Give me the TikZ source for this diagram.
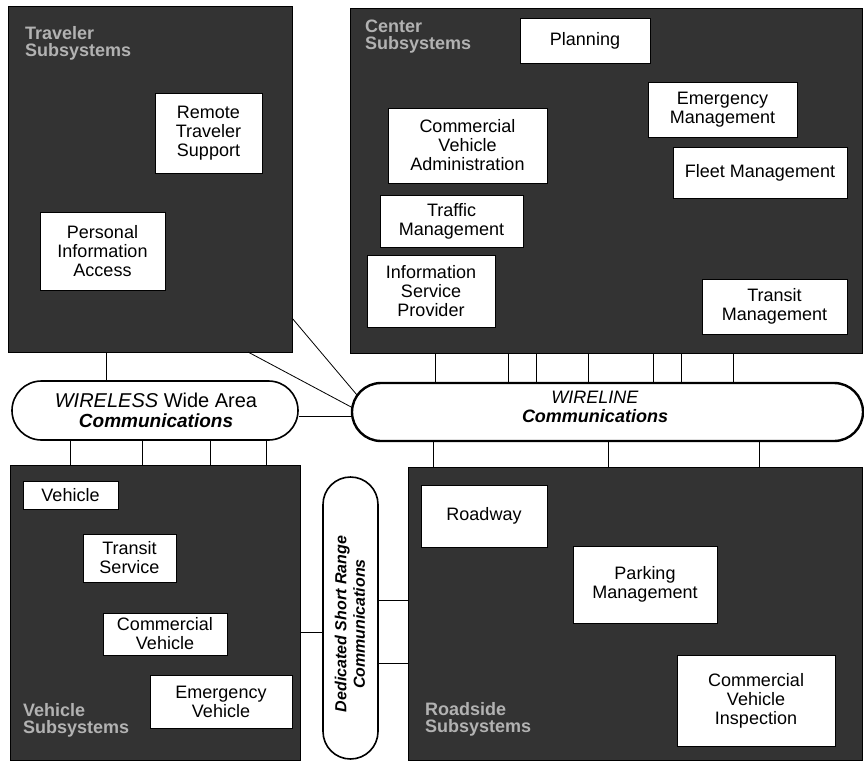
\documentclass[tikz,border=0pt]{standalone}
\usepackage{fontspec}
\setmainfont{Liberation Sans}
\begin{document}
\begin{tikzpicture}[x=1pt,y=-1pt,
  panel/.style={fill=black!80, draw=black, line width=0.8pt, inner sep=0pt},
  wbox/.style={draw=black, fill=white, line width=0.6pt, align=center, inner sep=0pt, font=\fontsize{18}{19}\selectfont},
  ptitle/.style={anchor=north west, align=left, text=black!30, inner sep=0pt, font=\bfseries\fontsize{18}{17}\selectfont},
  comm/.style={draw=black, fill=white, inner sep=0pt},
  conn/.style={draw=black, line width=0.8pt}]
\useasboundingbox (0,0) rectangle (864,760);
\fill[white] (0,0) rectangle (864,760);

% panels
\node[panel, minimum width=284pt, minimum height=346pt] (trav) at (150,179) {};
\node[panel, minimum width=512pt, minimum height=345pt] (cen) at (606,180.5) {};
\node[panel, minimum width=290pt, minimum height=295pt] (veh) at (155,612.5) {};
\node[panel, minimum width=454pt, minimum height=293pt] (road) at (635,613.5) {};

% panel titles
\node[ptitle] (travt) at (25,26) {Traveler\\Subsystems};
\node[ptitle] (cent) at (365,20) {Center\\Subsystems};
\node[ptitle] (veht) at (23,703) {Vehicle\\Subsystems};
\node[ptitle] (roadt) at (425,702) {Roadside\\Subsystems};

% communication elements
\node[comm, line width=1.6pt, rounded corners=29.5pt, minimum width=286pt, minimum height=59pt] (wls) at (155,410.5) {};
\node[align=center, inner sep=0pt, font=\fontsize{20}{20.5}\selectfont] (wlst) at (156,410.5)
  {\textit{WIRELESS} Wide Area\\{\fontsize{19}{20.5}\selectfont\bfseries\itshape Communications}};
\node[comm, line width=2.4pt, rounded corners=29pt, minimum width=511pt, minimum height=58pt] (wl) at (607.5,412) {};
\node[align=center, inner sep=0pt, font=\fontsize{18}{19.5}\selectfont] (wlt) at (595,407)
  {\textit{WIRELINE}\\\textbf{\textit{Communications}}};
\node[comm, line width=1.6pt, rounded corners=27.5pt, minimum width=55pt, minimum height=282pt] (dsrc) at (350.5,618) {};
\node[rotate=90, align=center, inner sep=0pt, font=\bfseries\itshape\fontsize{16}{18.5}\selectfont] (dsrct) at (350,624)
  {Dedicated Short Range\\Communications};

% connectors
\draw[conn] (106,0 |- trav.south) -- (106,0 |- wls.north);
\foreach \x in {70,142,210,266} \draw[conn] (\x,0 |- wls.south) -- (\x,0 |- veh.north);
\foreach \x in {435,508,536,588,653,681,733} \draw[conn] (\x,0 |- cen.south) -- (\x,0 |- wl.north);
\foreach \x in {433,608,759} \draw[conn] (\x,0 |- wl.south) -- (\x,0 |- road.north);
\draw[conn] (wls.east |- 0,416) -- (wl.west |- 0,416);
\coordinate (tra) at (248,352);
\coordinate (trb) at (292,318);
\coordinate (wla) at (353,408);
\coordinate (wlb) at (357,395);
\draw[conn] (tra) -- (wla);
\draw[conn] (trb) -- (wlb);
\draw[conn] (veh.east |- 0,632) -- (dsrc.west |- 0,632);
\draw[conn] (dsrc.east |- 0,600) -- (road.west |- 0,600);
\draw[conn] (dsrc.east |- 0,663) -- (road.west |- 0,663);

% traveler boxes
\node[wbox, minimum width=107pt, minimum height=80pt] (rts) at (208.5,133) {Remote\\Traveler\\Support};
\node[wbox, minimum width=125pt, minimum height=78pt] (pia) at (102.5,251) {Personal\\Information\\Access};
% center boxes
\node[wbox, minimum width=130pt, minimum height=45pt] (plan) at (585,40.5) {Planning};
\node[wbox, minimum width=149pt, minimum height=55pt] (em) at (722.5,109.5) {Emergency\\Management};
\node[wbox, minimum width=159pt, minimum height=75pt] (cva) at (467.5,145.5) {Commercial\\Vehicle\\Administration};
\node[wbox, minimum width=174pt, minimum height=51pt] (fm) at (760,172.5) {Fleet Management};
\node[wbox, minimum width=143pt, minimum height=52pt] (tm) at (451.5,221) {Traffic\\Management};
\node[wbox, minimum width=128pt, minimum height=72pt] (isp) at (431,291) {Information\\Service\\Provider};
\node[wbox, minimum width=145pt, minimum height=55pt] (trm) at (774.5,306.5) {Transit\\Management};
% vehicle boxes
\node[wbox, minimum width=95pt, minimum height=28pt] (vb) at (70.5,495.5) {Vehicle};
\node[wbox, minimum width=93pt, minimum height=48pt] (ts) at (129.5,558) {Transit\\Service};
\node[wbox, minimum width=124pt, minimum height=42pt] (cv) at (165,634) {Commercial\\Vehicle};
\node[wbox, minimum width=142pt, minimum height=53pt] (ev) at (221,701.5) {Emergency\\Vehicle};
% roadside boxes
\node[wbox, minimum width=126pt, minimum height=62pt] (rw) at (484,516) {Roadway};
\node[wbox, minimum width=144pt, minimum height=77pt] (pm) at (645,584.5) {Parking\\Management};
\node[wbox, minimum width=158pt, minimum height=91pt] (cvi) at (756,700.5) {Commercial\\Vehicle\\Inspection};
\end{tikzpicture}
\end{document}
